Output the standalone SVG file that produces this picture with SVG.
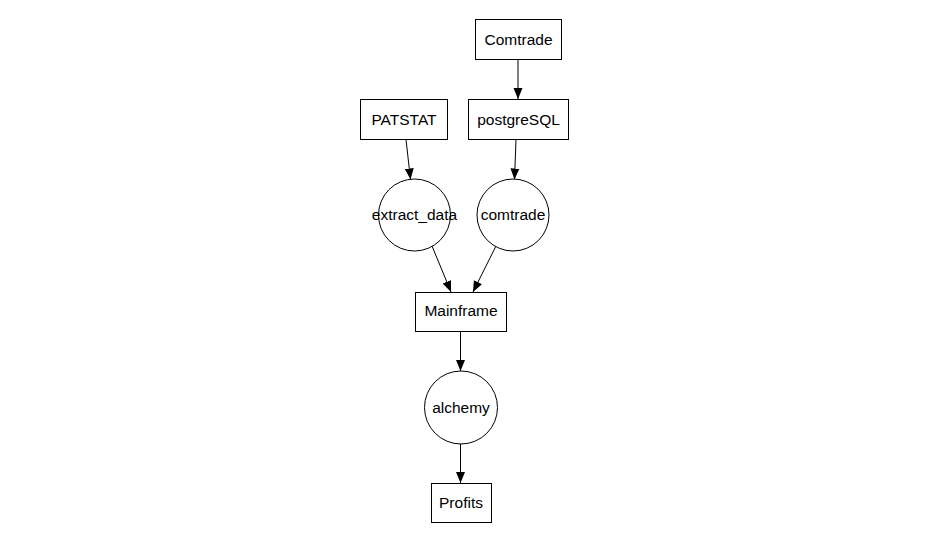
<svg xmlns="http://www.w3.org/2000/svg" width="927" height="541" viewBox="0 0 927 541">
<style>
.n{fill:#fff;stroke:#000;stroke-width:1}
text{font-family:"Liberation Sans",Arial,sans-serif;font-size:15.5px;fill:#000;text-anchor:middle}
.e{stroke:#000;stroke-width:1;fill:none;marker-end:url(#a)}
</style>
<defs>
<marker id="a" viewBox="0 0 11 10" refX="11" refY="5" markerWidth="11" markerHeight="10" markerUnits="userSpaceOnUse" orient="auto">
<path d="M0,0.5L11,5L0,9.5z" fill="#000"/>
</marker>
</defs>
<rect width="927" height="541" fill="#fff"/>
<g id="edges">
<line class="e" x1="518" y1="59.5" x2="518" y2="99"/>
<line class="e" x1="406" y1="139.5" x2="410.5" y2="179.5"/>
<line class="e" x1="516" y1="139.5" x2="514.5" y2="179.5"/>
<line class="e" x1="432" y1="246" x2="451" y2="292"/>
<line class="e" x1="496" y1="246" x2="473" y2="292"/>
<line class="e" x1="460.5" y1="331.5" x2="460.5" y2="371"/>
<line class="e" x1="460.5" y1="443.5" x2="460.5" y2="483"/>
</g>
<g id="Comtrade"><rect class="n" x="475.5" y="19.5" width="86" height="40"/><text x="518.5" y="44.5">Comtrade</text></g>
<g id="PATSTAT"><rect class="n" x="360.5" y="99.5" width="87" height="40"/><text x="404" y="124.5">PATSTAT</text></g>
<g id="postgreSQL"><rect class="n" x="468.5" y="99.5" width="100" height="40"/><text x="518.5" y="124.5">postgreSQL</text></g>
<g id="extract_data"><circle class="n" cx="414.5" cy="215" r="36"/><text x="414.5" y="220">extract_data</text></g>
<g id="comtrade"><circle class="n" cx="513" cy="215" r="36"/><text x="513" y="220">comtrade</text></g>
<g id="Mainframe"><rect class="n" x="415.5" y="292.5" width="91" height="39"/><text x="461" y="316">Mainframe</text></g>
<g id="alchemy"><circle class="n" cx="461" cy="407.5" r="36.5"/><text x="461" y="412.5">alchemy</text></g>
<g id="Profits"><rect class="n" x="431.5" y="483.5" width="60" height="39"/><text x="461" y="507.5">Profits</text></g>
</svg>
